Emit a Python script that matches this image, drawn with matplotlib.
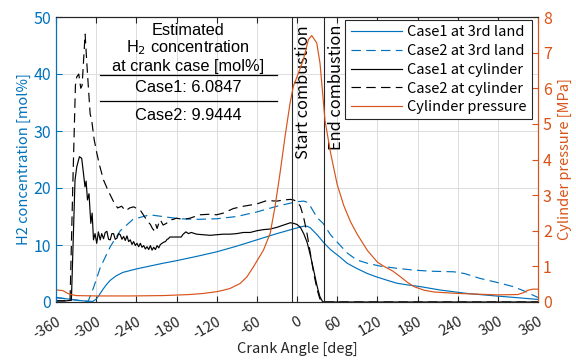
import matplotlib
matplotlib.use("Agg")
import matplotlib.pyplot as plt
import numpy as np

# ---------------- data ----------------
ca_c1_land = [-360, -340, -320, -305, -300, -295, -290, -285, -279, -270, -260, -240, -220, -200,
              -180, -150, -120, -90, -60, -30, 0, 10, 15, 20, 30, 40, 50, 64, 75, 89, 105, 119,
              135, 149, 165, 184, 214, 254, 298, 330, 360]
h2_c1_land = [0.75, 0.5, 0.2, 0.1, 0.5, 1.3, 2.2, 3.0, 3.8, 4.6, 5.2, 5.8, 6.3, 6.8,
              7.25, 8.0, 8.8, 9.8, 10.9, 12.0, 13.0, 13.3, 13.3, 13.0, 11.8, 10.4, 9.2, 7.9, 6.8, 5.9, 5.0, 4.4,
              3.8, 3.3, 3.0, 2.7, 2.1, 1.5, 1.05, 0.75, 0.45]

ca_c2_land = [-360, -340, -325, -312, -304, -294, -279, -264, -245, -220, -195, -175, -150, -120,
              -90, -60, -30, 0, 10, 15, 20, 25, 30, 39, 50, 64, 75, 89, 105, 124, 150, 174,
              200, 234, 250, 273, 300, 323, 340, 358, 360]
h2_c2_land = [0.8, 0.5, 0.25, 0.1, 2.5, 6.0, 9.7, 12.5, 14.5, 15.3, 14.9, 14.6, 14.5, 14.6,
              15.0, 15.8, 16.8, 17.6, 17.7, 17.5, 16.8, 15.8, 14.8, 13.8, 11.8, 10.0, 8.6, 7.4, 6.8, 6.3, 5.9, 5.6,
              5.4, 5.3, 5.0, 4.15, 3.4, 2.7, 1.9, 0.9, 0.8]

ca_c1_cyl = [-360, -345, -337, -331.6, -329, -325, -321.6, -319, -316.7, -315, -313, -310.7, -308, -306,
             -304, -301.7, -299.2, -296.7, -294, -291.7, -289, -286.5, -284, -281.5, -279, -276.5, -274,
             -271.5, -269, -266.5, -264, -261.5, -259, -256.5, -254, -251.5, -249, -246.5, -244, -241.5,
             -239, -236.5, -234, -231.5, -229, -226.5, -224, -221.5, -219, -216.5, -214, -211.5, -209,
             -206.5, -204, -201.5, -199, -196.5, -194, -192, -190, -180, -173, -170, -166, -162, -158,
             -150, -140, -130, -120, -110, -100, -90, -80, -70, -60, -50, -40, -30, -20, -10, -5, 0,
             5, 10, 15, 20, 25, 30, 34, 38, 40, 60, 120, 240, 360]
h2_c1_cyl = [0.2, 0.2, 0.3, 21.4, 23.7, 25.5, 25.2, 22.6, 20.2, 21.2, 17.9, 19.0, 13.8, 15.6,
             10.9, 12.0, 10.3, 12.3, 10.9, 12.0, 11.1, 12.2, 12.4, 11.0, 10.9, 12.0, 12.0,
             11.0, 11.2, 12.0, 11.8, 11.0, 11.5, 10.8, 11.6, 10.6, 10.9, 10.1, 10.6, 9.9,
             10.3, 9.7, 10.3, 9.6, 9.9, 9.3, 9.7, 9.2, 9.9, 9.1, 9.6, 9.2, 9.9,
             9.5, 10.1, 10.3, 10.5, 10.6, 11.0, 11.1, 11.4, 11.4, 11.4, 11.9, 12.3, 12.0, 12.2,
             11.9, 11.8, 11.7, 11.8, 11.9, 11.9, 12.0, 12.2, 12.2, 12.5, 12.7, 12.8, 13.1, 13.5, 13.9, 13.8, 13.6,
             13.1, 12.0, 10.5, 8.2, 5.5, 2.8, 1.0, 0.1, 0.0, 0.0, 0.0, 0.0, 0.0]

ca_c2_cyl = [-360, -345, -339, -335, -331, -329, -326, -323, -321, -318, -316.5, -314, -311.7, -309,
             -306.7, -303, -299, -295, -289, -282, -274, -268, -262, -256, -250, -244, -238, -234,
             -228, -222, -219, -216, -214, -211, -209, -206, -204, -200, -195, -190, -185, -180,
             -170, -160, -145, -130, -120, -110, -95, -80, -60, -45, -30, -20, -10, -5, 0, 5, 10,
             15, 20, 25, 30, 34, 37, 40, 60, 120, 240, 360]
h2_c2_cyl = [0.2, 0.2, 0.3, 20.0, 38.0, 39.5, 40.0, 37.5, 38.0, 44.0, 47.0, 42.0, 37.8, 33.0,
             31.9, 28.5, 26.1, 24.0, 21.4, 19.5, 17.6, 16.5, 16.8, 16.0, 16.5, 16.7, 16.3, 16.1,
             15.0, 14.0, 13.6, 12.9, 12.6, 13.6, 12.9, 14.0, 14.4, 13.5, 13.8, 14.4, 14.5, 14.7,
             14.5, 14.7, 15.3, 15.4, 15.3, 15.6, 16.4, 16.8, 17.2, 17.8, 17.7, 17.9, 18.0, 17.9, 17.6, 16.8, 14.8,
             12.0, 8.5, 5.0, 2.2, 0.6, 0.05, 0.0, 0.0, 0.0, 0.0, 0.0]

ca_p = [-360, -350, -340, -330, -300, -250, -200, -160, -140, -120, -110, -100, -85, -75, -65,
        -50, -40, -32.8, -25.4, -17.9, -10.4, -5.5, 2, 9.5, 16.9, 22, 29.5, 34.4, 41.8, 50, 60,
        70, 80, 90, 105, 120, 130, 143, 155, 165, 175, 190, 205, 240, 300, 330, 338, 345, 352, 360]
p_cyl = [0.34, 0.32, 0.22, 0.18, 0.17, 0.17, 0.18, 0.21, 0.24, 0.29, 0.33, 0.38, 0.52, 0.7, 0.99,
         1.46, 1.93, 2.68, 3.61, 4.64, 5.58, 6.05, 6.42, 6.8, 7.36, 7.48, 7.27, 6.7, 5.1, 4.2, 3.3,
         2.7, 2.25, 1.9, 1.45, 1.12, 1.0, 0.87, 0.7, 0.55, 0.43, 0.33, 0.28, 0.24, 0.2, 0.21, 0.26, 0.33, 0.36, 0.36]

start_comb = -8
end_comb = 40
case1_val = "6.0847"
case2_val = "9.9444"
xticks = list(range(-360, 361, 60))

# ---------------- styling ----------------
BLUE = "#0072BD"
ORANGE = "#D95319"
DARK = "#262626"
TICKFONT = ["Noto Sans CJK JP", "DejaVu Sans"]
BOXFONT = ["Liberation Sans", "DejaVu Sans"]
plt.rcParams["font.family"] = TICKFONT
DASH = (0, (8, 4.5))

fig = plt.figure(figsize=(5.76, 3.6), dpi=100)
ax = fig.add_axes([56/576, 1-302/360, 482/576, 285/360])
ax2 = ax.twinx()

l1, = ax.plot(ca_c1_land, h2_c1_land, color=BLUE, lw=0.85, ls="-", label="Case1 at 3rd land")
l2, = ax.plot(ca_c2_land, h2_c2_land, color=BLUE, lw=0.85, ls=DASH, label="Case2 at 3rd land")
l3, = ax.plot(ca_c1_cyl, h2_c1_cyl, color="black", lw=0.85, ls="-", label="Case1 at cylinder")
l4, = ax.plot(ca_c2_cyl, h2_c2_cyl, color="black", lw=0.85, ls=DASH, label="Case2 at cylinder")
l5, = ax2.plot(ca_p, p_cyl, color=ORANGE, lw=0.85, label="Cylinder pressure")

for xv in (start_comb, end_comb):
    ax.axvline(xv, color=DARK, lw=0.8)
ax.text(start_comb + 17, 48.6, "Start combustion", rotation=90, ha="center", va="top",
        fontsize=11.8, color="black")
ax.text(end_comb + 19, 48.6, "End combustion", rotation=90, ha="center", va="top",
        fontsize=11.8, color="black")

ax.set_xlim(-360, 360)
ax.set_ylim(0, 50)
ax2.set_ylim(0, 8)
ax.set_xticks(xticks)
ax.set_xticklabels([str(t) for t in xticks], rotation=30, ha="right", rotation_mode="anchor")
ax.set_yticks(range(0, 51, 10))
ax2.set_yticks(range(0, 9, 1))

ax.grid(True, color="#dcdcdc", lw=0.7)
ax.set_axisbelow(True)

ax.tick_params(axis="x", direction="in", length=4, top=True, colors=DARK, labelsize=10.5, pad=9)
ax.tick_params(axis="y", direction="in", length=4, colors=BLUE, labelsize=11.5)
ax2.tick_params(axis="y", direction="in", length=4, colors=ORANGE, labelsize=11.5)
for a in (ax, ax2):
    a.spines["top"].set_color(DARK)
    a.spines["bottom"].set_color(DARK)
    a.spines["left"].set_color(BLUE)
    a.spines["right"].set_color(ORANGE)

ax.set_xlabel("Crank Angle [deg]", fontsize=10.5, color=DARK, labelpad=0)
ax.set_ylabel("H2 concentration [mol%]", fontsize=10.5, color=BLUE, labelpad=2)
ax2.set_ylabel("Cylinder pressure [MPa]", fontsize=10.5, color=ORANGE, labelpad=4)

leg = ax2.legend(handles=[l1, l2, l3, l4, l5], loc="upper right",
                 bbox_to_anchor=(1 - 6/482, 1 - 3/285), borderaxespad=0, fontsize=10.5,
                 handlelength=3.5, handletextpad=0.4, labelspacing=0.33, borderpad=0.35,
                 fancybox=False, framealpha=1, edgecolor=DARK)
leg.get_frame().set_linewidth(0.8)

# text block
tx = 0.274
FS = 11.8
ax.text(tx, 0.954, "Estimated", transform=ax.transAxes, ha="center", va="center",
        fontsize=FS, family=BOXFONT)
ax.text(tx, 0.891, "H$_2$ concentration", transform=ax.transAxes, ha="center", va="center",
        fontsize=FS, family=BOXFONT)
ax.text(tx, 0.828, "at crank case [mol%]", transform=ax.transAxes, ha="center", va="center",
        fontsize=FS, family=BOXFONT)
ax.plot([0.0913, 0.4585], [0.7965, 0.7965], transform=ax.transAxes, color="black", lw=0.9)
ax.text(tx, 0.751, "Case1: " + case1_val, transform=ax.transAxes, ha="center", va="center",
        fontsize=FS, family=BOXFONT)
ax.plot([0.0913, 0.4585], [0.705, 0.705], transform=ax.transAxes, color="black", lw=0.9)
ax.text(tx, 0.656, "Case2: " + case2_val, transform=ax.transAxes, ha="center", va="center",
        fontsize=FS, family=BOXFONT)

fig.savefig("out.png", dpi=100)
